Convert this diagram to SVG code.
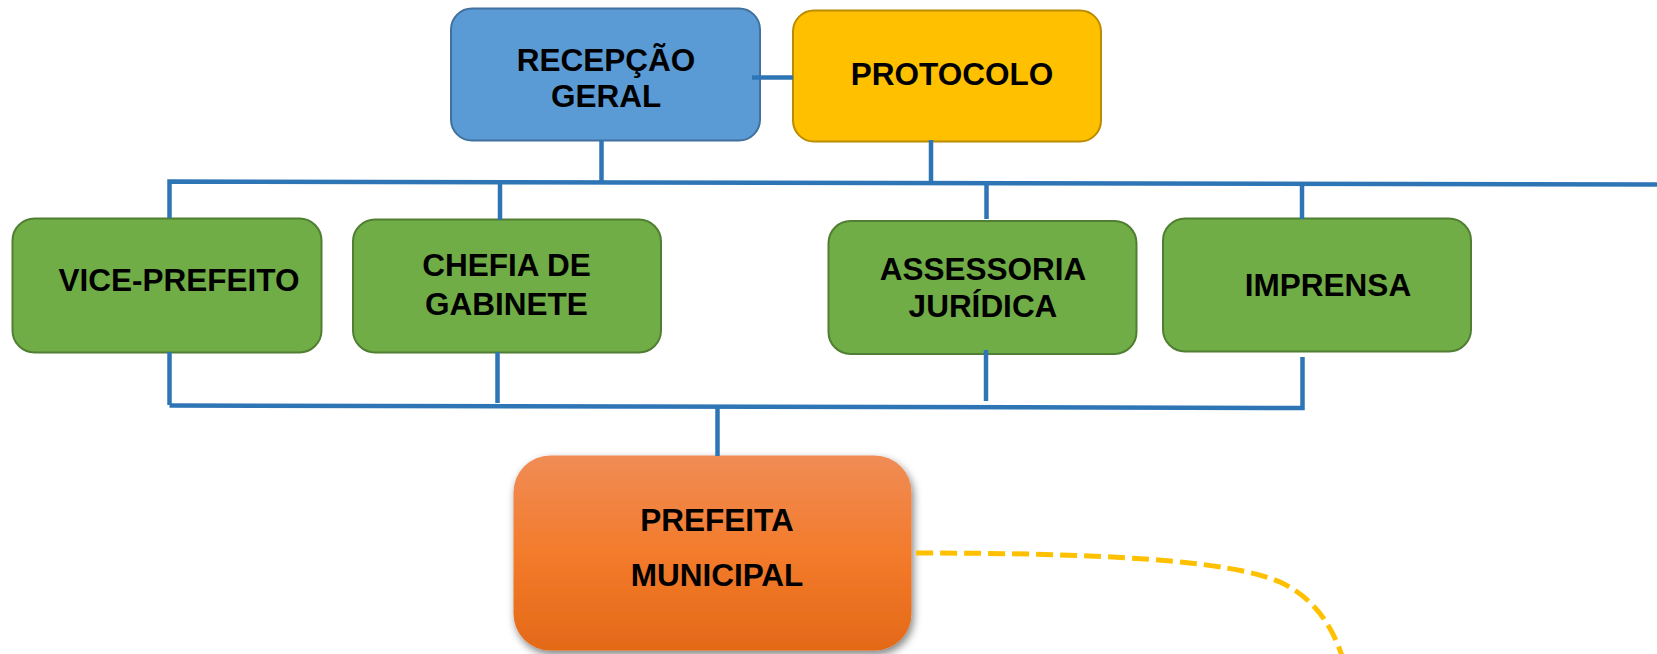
<svg xmlns="http://www.w3.org/2000/svg" width="1657" height="654" viewBox="0 0 1657 654">
<defs>
<linearGradient id="orangeGrad" x1="0" y1="0" x2="0" y2="1">
<stop offset="0" stop-color="#F08C56"/>
<stop offset="0.5" stop-color="#F37B2B"/>
<stop offset="1" stop-color="#E46918"/>
</linearGradient>
<filter id="shadow" x="-10%" y="-10%" width="125%" height="125%">
<feGaussianBlur in="SourceAlpha" stdDeviation="4"/>
<feOffset dx="2" dy="4" result="b"/>
<feComponentTransfer><feFuncA type="linear" slope="0.5"/></feComponentTransfer>
<feMerge><feMergeNode/><feMergeNode in="SourceGraphic"/></feMerge>
</filter>
</defs>
<style>
.lbl{font-family:"Liberation Sans",Arial,sans-serif;font-weight:bold;font-size:31.5px;fill:#000;text-anchor:middle}
.blue{fill:#5B9BD5;stroke:#41719C;stroke-width:2}
.yellow{fill:#FFC000;stroke:#BC8C00;stroke-width:2}
.green{fill:#70AD47;stroke:#507E32;stroke-width:2}
.conn{fill:none;stroke:#2E75B6;stroke-width:4.5}
.dash{fill:none;stroke:#FFC000;stroke-width:5;stroke-dasharray:17 7}
</style>
<rect width="1657" height="654" fill="#fff"/>
<g id="recepcao">
<rect class="blue" x="451" y="8.5" width="309" height="132" rx="21"/>
<text class="lbl" x="606" y="70.5">RECEPÇÃO</text>
<text class="lbl" x="606" y="106.5">GERAL</text>
</g>
<g id="protocolo">
<rect class="yellow" x="793" y="10.5" width="308" height="131" rx="21"/>
<text class="lbl" x="952" y="85">PROTOCOLO</text>
</g>
<g id="vice-prefeito">
<rect class="green" x="12.5" y="218.5" width="309" height="134" rx="22"/>
<text class="lbl" x="179" y="290.5">VICE-PREFEITO</text>
</g>
<g id="chefia">
<rect class="green" x="353" y="219.5" width="308" height="133" rx="22"/>
<text class="lbl" x="506.5" y="276">CHEFIA DE</text>
<text class="lbl" x="506.5" y="315">GABINETE</text>
</g>
<g id="assessoria">
<rect class="green" x="828.5" y="221" width="308" height="133" rx="22"/>
<text class="lbl" x="983" y="279.5">ASSESSORIA</text>
<text class="lbl" x="983" y="317">JURÍDICA</text>
</g>
<g id="imprensa">
<rect class="green" x="1163" y="218.5" width="308" height="133" rx="22"/>
<text class="lbl" x="1328" y="296">IMPRENSA</text>
</g>
<g id="prefeita">
<rect x="513.5" y="455.5" width="398" height="195" rx="37" fill="url(#orangeGrad)" filter="url(#shadow)"/>
<text class="lbl" x="717" y="530.5">PREFEITA</text>
<text class="lbl" x="717" y="586">MUNICIPAL</text>
</g>
<g id="connectors">
<line class="conn" x1="752" y1="77.5" x2="793" y2="77.5"/>
<line class="conn" x1="601.5" y1="140" x2="601.5" y2="182"/>
<line class="conn" x1="931" y1="140" x2="931" y2="183"/>
<path class="conn" d="M169.5,218 L169.5,181.5 L1657,184.5"/>
<line class="conn" x1="500" y1="182" x2="500" y2="220"/>
<line class="conn" x1="986.5" y1="183" x2="986.5" y2="219"/>
<line class="conn" x1="1302" y1="183.5" x2="1302" y2="219"/>
<line class="conn" x1="169.5" y1="352" x2="169.5" y2="405"/>
<line class="conn" x1="497.5" y1="352" x2="497.5" y2="403"/>
<line class="conn" x1="986" y1="350" x2="986" y2="401"/>
<path class="conn" d="M1302.5,357 L1302.5,408 L169.5,405.5"/>
<line class="conn" x1="717.5" y1="406" x2="717.5" y2="456"/>
<path class="dash" d="M916,553 C1100,553 1230,560 1280,582 C1310,596 1330,620 1342,656"/>
</g>
</svg>
